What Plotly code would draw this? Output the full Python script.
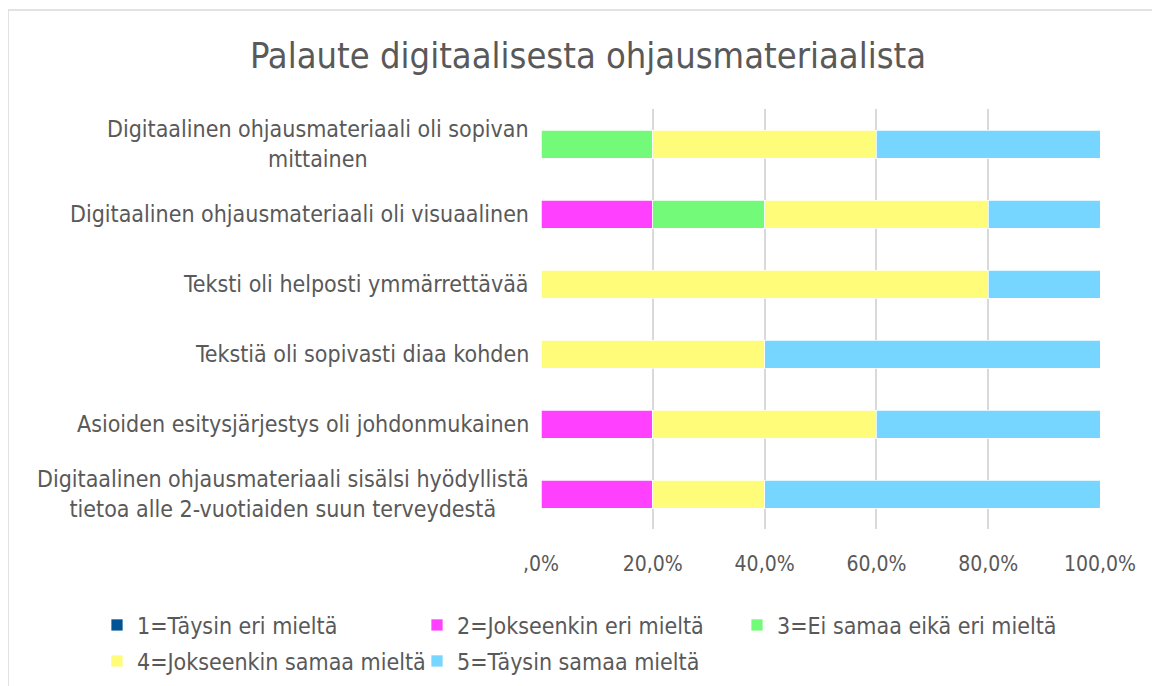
import plotly.graph_objects as go

categories = [
    "Digitaalinen ohjausmateriaali oli sopivan<br>mittainen",
    "Digitaalinen ohjausmateriaali oli visuaalinen",
    "Teksti oli helposti ymmärrettävää",
    "Tekstiä oli sopivasti diaa kohden",
    "Asioiden esitysjärjestys oli johdonmukainen",
    "Digitaalinen ohjausmateriaali sisälsi hyödyllistä<br>tietoa alle 2-vuotiaiden suun terveydestä",
]
series_names = [
    "1=Täysin eri mieltä",
    "2=Jokseenkin eri mieltä",
    "3=Ei samaa eikä eri mieltä",
    "4=Jokseenkin samaa mieltä",
    "5=Täysin samaa mieltä",
]
s1 = [0, 0, 0, 0, 0, 0]
s2 = [0, 20, 0, 0, 20, 20]
s3 = [20, 20, 0, 0, 0, 0]
s4 = [40, 40, 80, 40, 40, 20]
s5 = [40, 20, 20, 60, 40, 60]
series_values = [s1, s2, s3, s4, s5]
colors = ["#005493", "#FF40FF", "#73FA79", "#FFFC79", "#76D6FF"]
tick_vals = [0, 20, 40, 60, 80, 100]
tick_text = [",0%", "20,0%", "40,0%", "60,0%", "80,0%", "100,0%"]

FONT = "DejaVu Sans Condensed, DejaVu Sans, sans-serif"
TXT = "#595959"

fig = go.Figure()
for i, (name, vals, col) in enumerate(zip(series_names, series_values, colors)):
    fig.add_trace(go.Bar(
        y=categories, x=vals, name=name, orientation="h",
        marker=dict(color=col, line=dict(color="white", width=0.75)),
        legend="legend" if i < 3 else "legend2",
    ))

annotations = []
for c in categories:
    annotations.append(dict(
        x=0, xref="paper", y=c, yref="y", text=c, showarrow=False,
        xanchor="right", yanchor="middle", align="center", xshift=-10,
        font=dict(family=FONT, size=23, color=TXT),
    ))

# page body has an 8px margin; positions below are target pixels minus it
OFF = 8
W, H = 1160, 686
L, R, T, B = 541 - OFF, 1160 - (1100 - OFF), 109 - OFF, 686 - (529 - OFF)
pw, ph = W - L - R, H - T - B

def px_x(p):
    return (p - OFF - L) / pw

def px_y(p):
    return (H - B - (p - OFF)) / ph

fig.update_layout(
    width=W, height=H,
    margin=dict(l=L, r=R, t=T, b=B, autoexpand=False),
    barmode="stack", bargap=0.6,
    plot_bgcolor="white", paper_bgcolor="white",
    font=dict(family=FONT, size=23, color=TXT),
    title=dict(text="Palaute digitaalisesta ohjausmateriaalista",
               x=px_x(588) * pw / W + L / W, xanchor="center",
               y=1 - (55 - OFF) / H, yanchor="middle",
               font=dict(family=FONT, size=36, color=TXT)),
    xaxis=dict(range=[0, 100], tickvals=tick_vals, ticktext=tick_text,
               showgrid=True, gridcolor="#D9D9D9", gridwidth=1.5,
               zeroline=False, showline=False, ticks="", ticklabelstandoff=20,
               tickfont=dict(family=FONT, size=21, color=TXT), fixedrange=True),
    yaxis=dict(autorange="reversed", showticklabels=False, showgrid=False,
               zeroline=False, showline=False, ticks=""),
    legend=dict(orientation="h", x=px_x(97), xanchor="left",
                y=px_y(625), yanchor="middle", entrywidth=275,
                entrywidthmode="pixels",
                font=dict(family=FONT, size=23, color=TXT), traceorder="normal"),
    legend2=dict(orientation="h", x=px_x(97), xanchor="left",
                 y=px_y(661), yanchor="middle", entrywidth=275,
                 entrywidthmode="pixels",
                 font=dict(family=FONT, size=23, color=TXT), traceorder="normal"),
    annotations=annotations,
    shapes=[dict(type="rect", xref="paper", yref="paper",
                 x0=px_x(8), x1=px_x(1190), y0=px_y(720), y1=px_y(10),
                 line=dict(color="#D9D9D9", width=1.5), fillcolor="rgba(0,0,0,0)",
                 layer="below")],
)

fig.write_html("out.html")
